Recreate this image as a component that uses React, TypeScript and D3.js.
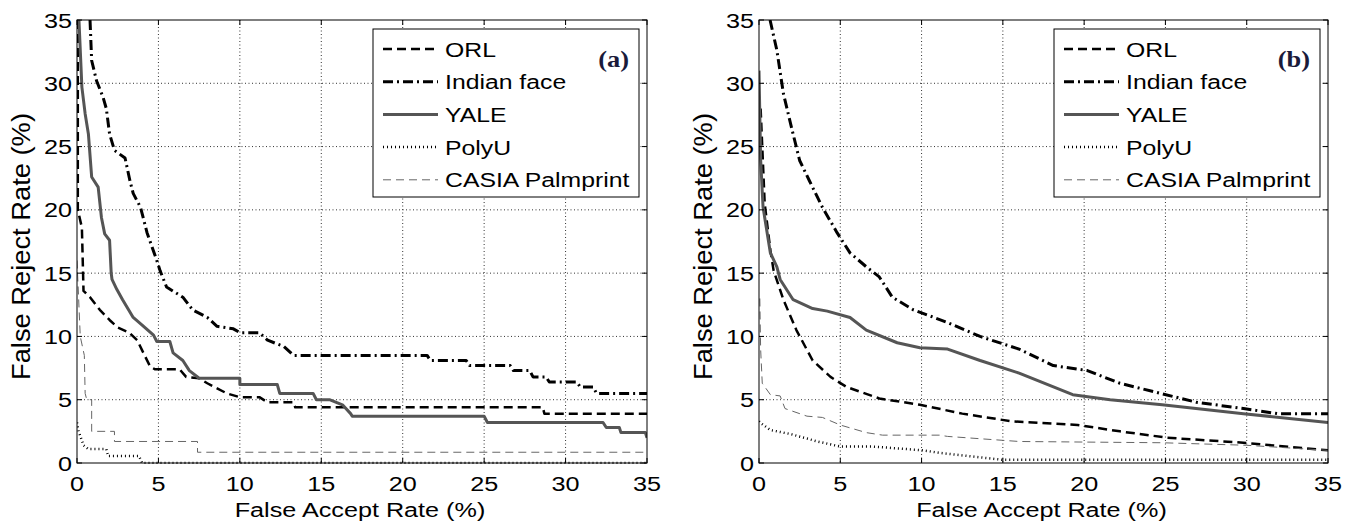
import React from "react";
import * as d3 from "d3";

// axis ticks (both panels share them)
const TICKS = [0, 5, 10, 15, 20, 25, 30, 35];
const SERIES_NAMES = ["ORL", "Indian face", "YALE", "PolyU", "CASIA Palmprint"];
const PANEL_TAGS = ["(a)", "(b)"];

// panel (a) curves, [FAR, FRR]
const ORL_A: [number, number][] = [[0.05,35],[0.05,20],[0.3,18.6],[0.4,13.6],[0.8,13.1],[1.4,12.1],[2.0,11.3],[2.5,10.7],[3.2,10.3],[3.7,9.7],[4.0,8.9],[4.5,7.6],[4.8,7.4],[6.3,7.4],[6.7,6.8],[7.5,6.7],[8.0,6.3],[8.6,5.9],[9.2,5.5],[10,5.2],[11.2,5.2],[11.7,4.8],[13.3,4.8],[13.4,4.4],[28.6,4.4],[28.7,3.9],[35,3.9]];
const INDIAN_A: [number, number][] = [[0.8,35],[0.9,31.8],[1.2,30.2],[1.6,28.9],[1.8,28],[2.0,26],[2.3,24.7],[2.95,24.1],[3.25,22.3],[3.45,21.3],[3.9,20.2],[4.3,18.2],[4.9,16.0],[5.1,15.2],[5.5,13.9],[6.5,13.1],[7.1,12.1],[8.0,11.5],[8.6,10.8],[9.6,10.6],[10,10.3],[11.2,10.3],[11.7,9.7],[12.7,9.2],[13.3,8.5],[21.5,8.5],[21.7,8.1],[23.9,8.1],[24.1,7.7],[26.6,7.7],[26.8,7.3],[27.8,7.3],[28.0,6.8],[28.8,6.8],[29.0,6.4],[30.7,6.4],[30.9,6.0],[31.7,6.0],[31.9,5.5],[35,5.5]];
const YALE_A: [number, number][] = [[0.12,35],[0.3,29.7],[0.5,27.6],[0.7,26],[0.9,22.6],[1.3,21.8],[1.5,19.4],[1.7,18.1],[2.0,17.6],[2.1,15],[2.15,14.5],[2.45,13.7],[2.8,12.9],[3.45,11.5],[4.0,10.9],[4.7,10.1],[4.9,9.6],[5.7,9.6],[5.9,8.7],[6.5,8.1],[6.9,7.3],[7.5,6.7],[10,6.7],[10,6.2],[12.3,6.2],[12.45,5.5],[14.5,5.5],[14.7,5.0],[15.5,5.0],[16.3,4.6],[16.8,3.9],[16.9,3.7],[25.0,3.7],[25.2,3.2],[32.3,3.2],[32.5,2.8],[33.3,2.8],[33.4,2.4],[34.9,2.4],[35,2.0]];
const POLYU_A: [number, number][] = [[0,3.2],[0.1,2.5],[0.4,1.4],[0.7,1.1],[1.8,1.1],[1.9,0.55],[3.8,0.55],[4.0,0],[35,0]];
const CASIA_A: [number, number][] = [[0,16],[0.1,13],[0.2,10],[0.45,8.5],[0.5,5.5],[0.6,5.0],[0.9,5.0],[0.9,2.5],[2.3,2.5],[2.3,1.7],[7.4,1.7],[7.4,0.85],[35,0.85]];

// panel (b) curves
const ORL_B: [number, number][] = [[0.1,28],[0.35,20.5],[0.7,16.8],[0.9,15.2],[1.5,12.9],[2.3,10.5],[3.3,8.1],[4.4,6.8],[5.4,6.0],[7.4,5.1],[9.9,4.6],[12.5,3.9],[15.5,3.3],[19.6,3.0],[22.2,2.5],[25.1,2.0],[29.8,1.6],[35,1.0]];
const INDIAN_B: [number, number][] = [[0.68,35],[1.1,32.6],[1.5,29.2],[2.0,26.5],[2.5,23.9],[3.1,22.3],[3.9,20.2],[4.8,18.2],[5.6,16.6],[6.6,15.5],[7.4,14.7],[8.2,13.1],[9.5,12.1],[11.6,11.1],[13.6,10.0],[16.0,9.0],[18.1,7.7],[20.2,7.3],[22.2,6.3],[24.7,5.5],[26.9,4.8],[29.8,4.3],[31.9,3.9],[35,3.9]];
const YALE_B: [number, number][] = [[0,31],[0.1,24],[0.25,20.2],[0.7,16.6],[1.1,15.5],[1.3,14.5],[2.1,12.9],[3.3,12.2],[4.2,12.0],[5.6,11.5],[6.6,10.5],[8.5,9.5],[9.9,9.1],[11.6,9.0],[13.6,8.1],[16.0,7.1],[19.3,5.4],[21.6,5.0],[24.8,4.6],[29.8,3.9],[35,3.2]];
const POLYU_B: [number, number][] = [[0,3.3],[0.06,3.2],[0.7,2.6],[1.9,2.3],[3.6,1.7],[5.0,1.3],[7.0,1.3],[10.1,1.0],[11.1,0.8],[15,0.25],[35,0.25]];
const CASIA_B: [number, number][] = [[0.05,13],[0.1,9],[0.2,6.3],[0.7,5.4],[1.3,5.3],[1.6,4.3],[2.95,3.7],[3.9,3.6],[5.0,3.0],[6.6,2.4],[7.6,2.2],[11.1,2.2],[11.6,2.1],[16,1.7],[24.8,1.6],[30,1.4],[35,1.0]];

const STYLES = [
  { stroke: "#000", width: 2.5, dash: "9 5" },
  { stroke: "#000", width: 3, dash: "10 4 2 4" },
  { stroke: "#555", width: 3, dash: undefined },
  { stroke: "#000", width: 2.5, dash: "1 3" },
  { stroke: "#666", width: 1, dash: "8 5" },
];

const FONT = "'Liberation Sans', Arial, Helvetica, sans-serif";
const SX = 1.2; // the original text is a bit wide

function Txt({ x, y, sx = SX, sy = 1, rot = 0, anchor = "start", size = 21, family = FONT, weight = "normal", fill = "#000", children }: any) {
  return (
    <text
      transform={`translate(${x},${y}) scale(${sx},${sy})${rot ? ` rotate(${rot})` : ""}`}
      textAnchor={anchor}
      fontSize={size}
      fontFamily={family}
      fontWeight={weight}
      fill={fill}
    >
      {children}
    </text>
  );
}

function Panel({ left, right, top, bottom, data, tag, id }: any) {
  const x = d3.scaleLinear().domain([0, 35]).range([left, right]);
  const y = d3.scaleLinear().domain([0, 35]).range([bottom, top]);
  const line = d3.line<[number, number]>().x(d => x(d[0])).y(d => y(d[1]));
  const lgLeft = right - 274, lgTop = top + 9, lgW = 266, lgH = 168;
  const inner = TICKS.slice(1, -1);

  return (
    <g>
      <defs>
        <clipPath id={id}>
          <rect x={left} y={top} width={right - left} height={bottom - top + 1} />
        </clipPath>
      </defs>
      {/* grid */}
      <g stroke="#000" strokeWidth={1} strokeDasharray="1 2.5" opacity={0.8}>
        {inner.map(t => <line key={"gx" + t} x1={x(t)} x2={x(t)} y1={top} y2={bottom} />)}
        {inner.map(t => <line key={"gy" + t} x1={left} x2={right} y1={y(t)} y2={y(t)} />)}
      </g>
      {/* curves */}
      <g clipPath={`url(#${id})`} fill="none">
        {data.map((s: [number, number][], i: number) => (
          <path key={i} d={line(s) || ""} stroke={STYLES[i].stroke} strokeWidth={STYLES[i].width}
            strokeDasharray={STYLES[i].dash} strokeLinejoin="round" />
        ))}
      </g>
      {/* box + ticks */}
      <rect x={left} y={top} width={right - left} height={bottom - top} fill="none" stroke="#000" strokeWidth={1} />
      <g stroke="#000" strokeWidth={1}>
        {TICKS.map(t => (
          <g key={"t" + t}>
            <line x1={x(t)} x2={x(t)} y1={bottom} y2={bottom - 5} />
            <line x1={x(t)} x2={x(t)} y1={top} y2={top + 5} />
            <line x1={left} x2={left + 5} y1={y(t)} y2={y(t)} />
            <line x1={right} x2={right - 5} y1={y(t)} y2={y(t)} />
          </g>
        ))}
      </g>
      {/* tick labels */}
      {TICKS.map(t => <Txt key={"xl" + t} x={x(t)} y={bottom + 28} anchor="middle">{t}</Txt>)}
      {TICKS.map(t => <Txt key={"yl" + t} x={left - 5} y={y(t) + 7.5} anchor="end">{t}</Txt>)}
      {/* axis titles */}
      <Txt x={(left + right) / 2 - 2} y={bottom + 54} anchor="middle">False Accept Rate (%)</Txt>
      <Txt x={left - 47} y={(top + bottom) / 2 + 5} rot={-90} sx={1.2} sy={1.3} anchor="middle">False Reject Rate (%)</Txt>
      {/* legend */}
      <rect x={lgLeft} y={lgTop} width={lgW} height={lgH} fill="#fff" stroke="#000" strokeWidth={1} />
      {SERIES_NAMES.map((name, i) => {
        const cy = lgTop + 20 + i * 32.7;
        return (
          <g key={name}>
            <line x1={lgLeft + 10} x2={lgLeft + 65} y1={cy} y2={cy} stroke={STYLES[i].stroke}
              strokeWidth={STYLES[i].width} strokeDasharray={STYLES[i].dash} />
            <Txt x={lgLeft + 72} y={cy + 7.5} size={21} sx={1.18}>{name}</Txt>
          </g>
        );
      })}
      <Txt x={lgLeft + lgW - 10} y={lgTop + 38} anchor="end" size={24} sx={1.1}
        family="'Liberation Serif', 'Times New Roman', serif" weight="bold" fill="#1a1a3a">{tag}</Txt>
    </g>
  );
}

export default function App() {
  return (
    <svg width={1359} height={529} style={{ position: "absolute", left: 0, top: 0, background: "#fff" }}>
      <rect width={1359} height={529} fill="#fff" />
      <Panel id="clipA" left={77} right={647} top={20} bottom={463} tag={PANEL_TAGS[0]}
        data={[ORL_A, INDIAN_A, YALE_A, POLYU_A, CASIA_A]} />
      <Panel id="clipB" left={759} right={1328} top={20} bottom={463} tag={PANEL_TAGS[1]}
        data={[ORL_B, INDIAN_B, YALE_B, POLYU_B, CASIA_B]} />
    </svg>
  );
}
